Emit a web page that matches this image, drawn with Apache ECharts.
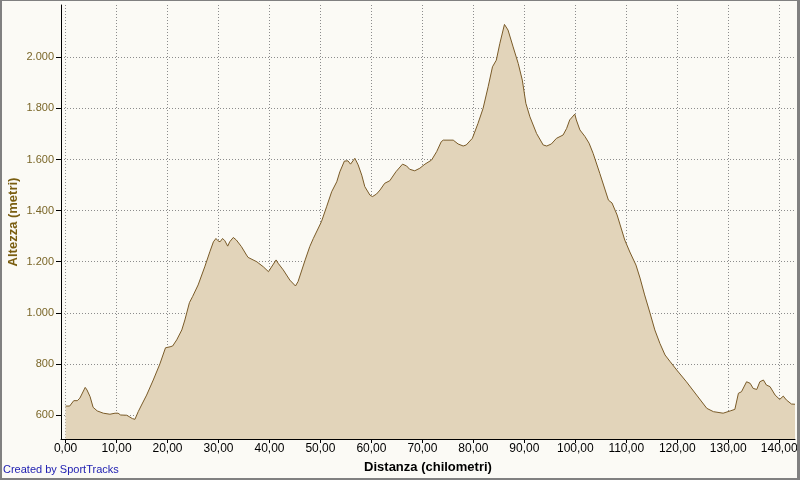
<!DOCTYPE html>
<html><head><meta charset="utf-8">
<script src="https://cdn.jsdelivr.net/npm/echarts@6/dist/echarts.min.js"></script>
<style>
html,body{margin:0;padding:0;background:#FBFAF5;}
#wrap{position:absolute;left:0;top:0;width:800px;height:480px;}
#chart{position:absolute;left:0;top:0;width:800px;height:480px;}
#frame{position:absolute;left:0;top:0;width:800px;height:480px;box-sizing:border-box;border-style:solid;border-color:#808080;border-width:1px 3px 2px 2px;pointer-events:none;}
</style></head>
<body><div id="wrap"><div id="chart"></div><div id="frame"></div></div>
<script>
const distances = [0,0.8,1.6,2.3,2.8,3.85,4.2,4.8,5.4,6.2,7.4,8.7,9.7,10.3,10.8,12,13.1,13.6,14.25,14.9,15.9,17.2,18.5,19.6,20.5,21,21.8,22.8,23.4,24.3,24.9,26.0,27.3,28.3,29.0,29.5,29.9,30.3,30.8,31.25,31.8,32.2,32.9,33.5,34.5,35.5,35.8,37.5,38.8,39.8,40.1,41.3,41.7,42.7,44.0,45.1,45.6,47.0,47.9,48.6,50.2,51.2,52.2,53.2,53.8,54.7,55.4,55.9,56.75,57.4,58.1,58.7,59.7,60.2,61.0,61.7,62.6,63.6,64.8,66.1,66.9,67.5,68.5,69.5,70.5,71.8,72.8,73.7,74.1,76.05,77.0,78.0,78.6,79.8,80.9,81.9,82.9,83.75,84.5,85.2,86.1,86.8,87.8,88.8,89.6,90.3,91.1,92.4,93.7,94.4,95.3,96.3,97.6,98.3,98.9,99.9,100.2,100.9,101.9,102.7,103.5,104.8,106.5,107.2,108.2,108.8,109.7,110.7,111.9,112.7,113.6,114.6,115.6,116.6,117.6,118.6,119.9,121.8,123.8,125.8,127.1,129.0,130.4,131.3,132.0,132.6,133.6,134.3,134.9,135.6,136.2,136.9,137.5,138.2,139.2,140.1,140.8,141.4,142.4,143.1];
const altitudes = [635,635,656,656,666,708,698,672,630,616,607,603,607,607,600,599,586,583,613,639,678,737,800,863,867,870,894,933,972,1040,1063,1109,1180,1239,1278,1291,1282,1278,1291,1282,1261,1278,1295,1285,1259,1226,1217,1200,1180,1161,1159,1207,1194,1168,1128,1105,1122,1207,1259,1291,1357,1415,1474,1513,1552,1594,1595,1582,1605,1579,1539,1494,1461,1455,1465,1481,1507,1517,1552,1582,1575,1562,1556,1566,1582,1598,1631,1670,1676,1676,1661,1653,1657,1683,1741,1800,1885,1963,1989,2055,2129,2107,2041,1976,1911,1820,1767,1702,1657,1653,1661,1683,1696,1722,1755,1778,1755,1716,1690,1664,1624,1546,1441,1430,1383,1344,1285,1238,1187,1136,1070,1003,933,880,835,809,776,730,678,626,613,607,616,622,685,691,730,724,704,700,730,737,717,711,678,661,674,659,643,642];
const xTicks = [0,10,20,30,40,50,60,70,80,90,100,110,120,130,140];
const yTicks = [600,800,1000,1200,1400,1600,1800,2000];

const fmtX = v => v.toFixed(2).replace('.', ',');
const fmtY = v => { const s = String(Math.round(v)); return s.length > 3 ? s.slice(0, s.length-3) + '.' + s.slice(-3) : s; };

const chart = echarts.init(document.getElementById('chart'), null, {renderer:'canvas'});
chart.setOption({
  backgroundColor: '#FBFAF5',
  animation: false,
  grid: {left: 61, right: 5, top: 5, bottom: 41, containLabel: false, outerBoundsMode: 'none'},
  xAxis: {
    type: 'value', min: -0.9, max: 143.1,
    name: 'Distanza (chilometri)', nameLocation: 'middle', nameGap: 22, nameMoveOverlap: false,
    nameTextStyle: {color: '#000', fontWeight: 'bold', fontSize: 13, fontFamily: 'Liberation Sans'},
    axisLine: {show: true, onZero: false, lineStyle: {color: '#000', width: 1}},
    axisTick: {show: true, length: 4, lineStyle: {color: '#000'}, customValues: xTicks},
    axisLabel: {color: '#000', fontSize: 12, fontFamily: 'Liberation Sans', margin: 4, formatter: fmtX, customValues: xTicks},
    splitLine: {show: true, lineStyle: {color: '#8c8c8c', type: [1, 2], width: 1}}
  },
  yAxis: {
    type: 'value', min: 506, max: 2205,
    name: 'Altezza (metri)', nameLocation: 'middle', nameGap: 41, nameRotate: 90, nameMoveOverlap: false,
    nameTextStyle: {color: '#7A5E10', fontWeight: 'bold', fontSize: 13, fontFamily: 'Liberation Sans'},
    axisLine: {show: true, onZero: false, lineStyle: {color: '#000', width: 1}},
    axisTick: {show: true, length: 5, lineStyle: {color: '#000'}, customValues: yTicks},
    axisLabel: {color: '#7A6628', fontSize: 11, fontFamily: 'Liberation Sans', margin: 7, formatter: fmtY, customValues: yTicks},
    splitLine: {show: true, lineStyle: {color: '#8c8c8c', type: [1, 2], width: 1}}
  },
  graphic: [{
    type: 'text', left: 3, top: 464,
    style: {text: 'Created by SportTracks', fill: '#1C1CB0', font: '11px "Liberation Sans"'}
  }],
  series: [{
    type: 'line',
    data: distances.map((d, i) => [d, altitudes[i]]),
    showSymbol: false, symbol: 'none',
    lineStyle: {color: '#7A5B28', width: 1},
    areaStyle: {color: '#E2D4BA', opacity: 1, origin: 'start'},
    z: 1
  }]
});
</script></body></html>
